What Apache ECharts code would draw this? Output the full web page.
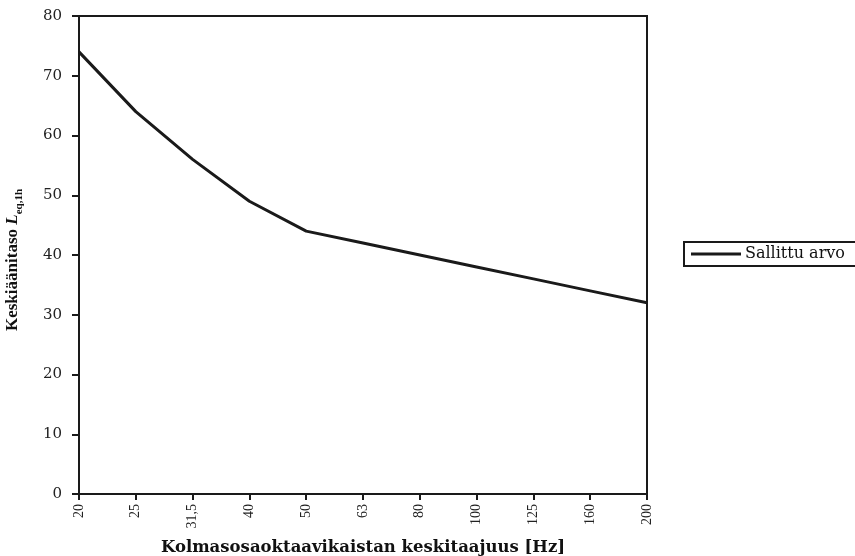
<!DOCTYPE html>
<html><head><meta charset="utf-8">
<script src="https://cdn.jsdelivr.net/npm/echarts@6/dist/echarts.min.js"></script>
<style>html,body{margin:0;padding:0;background:#fff}#c{width:855px;height:556px}</style>
</head><body><div id="c"></div>
<script>
const categories = ['20','25','31,5','40','50','63','80','100','125','160','200'];
const allowed = [74, 64, 56, 49, 44, 42, 40, 38, 36, 34, 32];
const seriesName = 'Sallittu arvo';
const yTicks = {min: 0, max: 80, interval: 10};

const chart = echarts.init(document.getElementById('c'));
const serif = '"Liberation Serif", "DejaVu Serif", serif';
const wide = '"DejaVu Serif", "Liberation Serif", serif';
chart.setOption({
  animation: false,
  backgroundColor: '#fff',
  textStyle: {fontFamily: serif},
  grid: {left: 79, right: 208, top: 16, bottom: 62, containLabel: false, outerBoundsMode: 'none',
         show: true, borderColor: '#1a1a1a', borderWidth: 2, backgroundColor: 'transparent'},
  legend: {
    left: 684, top: 242,
    data: [seriesName],
    borderColor: '#1a1a1a', borderWidth: 2, borderRadius: 0,
    padding: [4, 20, 4, 7],
    itemWidth: 50, itemHeight: 12, itemGap: 0,
    icon: 'path://M0,4.5 L50,4.5 L50,7.5 L0,7.5 Z',
    textStyle: {fontFamily: wide, fontSize: 16, color: '#111', padding: [0,0,0,-1]}
  },
  xAxis: {
    type: 'category', data: categories, boundaryGap: false,
    axisLine: {lineStyle: {color: '#1a1a1a', width: 2}},
    axisTick: {alignWithLabel: true, length: 6, lineStyle: {color: '#1a1a1a', width: 2}},
    axisLabel: {rotate: 90, margin: 10, fontFamily: serif, fontSize: 14, color: '#222', interval: 0},
    splitLine: {show: false},
    name: 'Kolmasosaoktaavikaistan keskitaajuus [Hz]',
    nameLocation: 'middle', nameGap: 45,
    nameTextStyle: {fontFamily: wide, fontSize: 16.5, fontWeight: 'bold', color: '#111'}
  },
  yAxis: {
    type: 'value', min: yTicks.min, max: yTicks.max, interval: yTicks.interval,
    axisLine: {show: true, lineStyle: {color: '#1a1a1a', width: 2}},
    axisTick: {show: true, length: 7, lineStyle: {color: '#1a1a1a', width: 2}},
    axisLabel: {margin: 17, fontFamily: wide, fontSize: 15, color: '#222'},
    splitLine: {show: false},
    name: '{a|Keskiäänitaso }{b|L}{c|eq,1h}',
    nameLocation: 'middle', nameGap: 58, nameRotate: 90,
    nameTextStyle: {
      padding: [0, 10, 0, 0],
      rich: {
        a: {fontFamily: serif, fontSize: 17, fontWeight: 'bold', color: '#111', lineHeight: 22, verticalAlign: 'bottom'},
        b: {fontFamily: serif, fontSize: 17, fontWeight: 'bold', fontStyle: 'italic', color: '#111', lineHeight: 22, verticalAlign: 'bottom'},
        c: {fontFamily: serif, fontSize: 11, fontWeight: 'bold', color: '#111', lineHeight: 22, verticalAlign: 'bottom', padding: [0,0,-4,0]}
      }
    }
  },
  series: [{
    name: seriesName, type: 'line', data: allowed, symbol: 'none',
    lineStyle: {color: '#1a1a1a', width: 3},
    itemStyle: {color: '#1a1a1a'}
  }]
});
</script></body></html>
